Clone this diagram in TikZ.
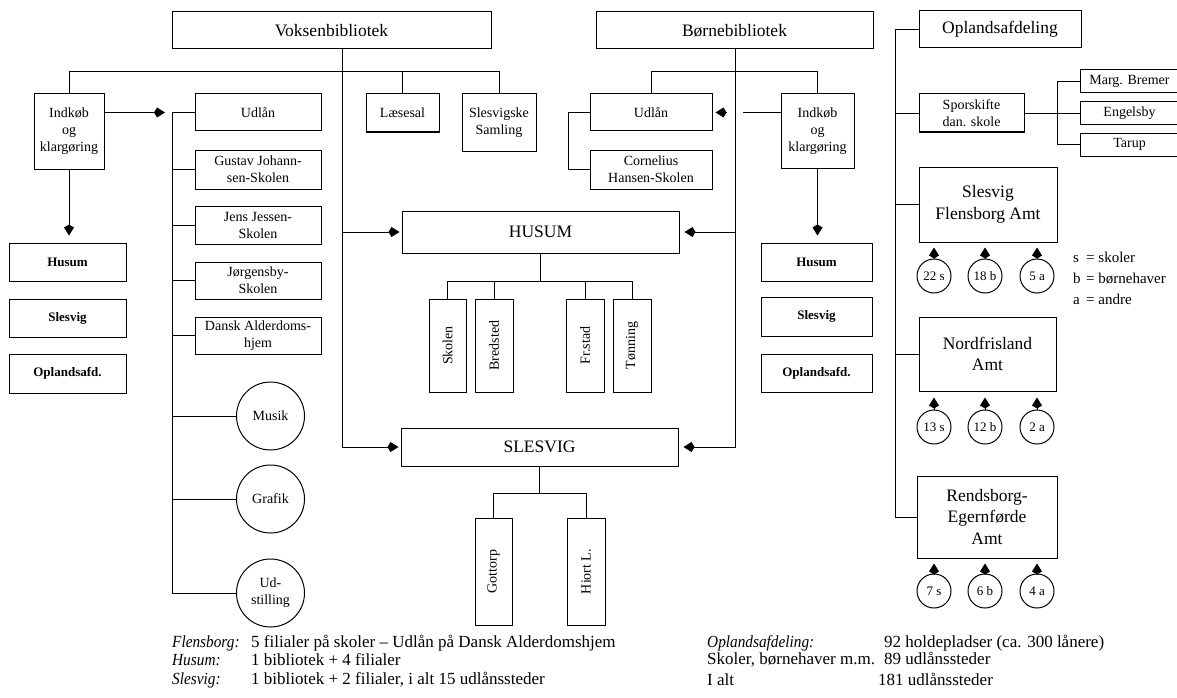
\documentclass[tikz,border=0pt]{standalone}
\usepackage{fontspec}
\setmainfont{Liberation Serif}
\newfontfamily\myitfam{Liberation Serif}[FakeStretch=0.9]
\usetikzlibrary{arrows.meta,calc}
\newcommand\myS{\fontsize{14}{17}\selectfont}
\newcommand\myL{\fontsize{17.5}{21.5}\selectfont}
\newcommand\myB{\fontsize{13}{15}\selectfont\bfseries}
\newcommand\myXS{\fontsize{13}{14}\selectfont}
\newcommand\myT{\fontsize{17}{20}\selectfont}
\newcommand\myLg{\fontsize{15}{17}\selectfont}
\begin{document}
\begin{tikzpicture}[x=1pt,y=-1pt,
  box/.style={draw, line width=1pt, align=center, inner sep=1pt, font=\myS},
  big/.style={box, font=\myL},
  bld/.style={box, font=\myB},
  circ/.style={draw, circle, line width=1pt, minimum size=68pt, inner sep=0pt, align=center, font=\myS},
  smc/.style={draw, circle, line width=1pt, minimum size=34pt, inner sep=0pt, font=\myXS},
  con/.style={line width=0.9pt},
  arr/.style={con, -{Kite[length=11pt,width=10pt,inset=3pt]}},
  txt/.style={anchor=base west, inner sep=0pt, font=\myT},
  ital/.style={anchor=base west, inner sep=0pt, font=\myT\myitfam\itshape},
  lg/.style={anchor=base west, inner sep=0pt, font=\myLg}]
\useasboundingbox (0,0) rectangle (1177,698);

% top row
\node[big, minimum width=319pt, minimum height=37pt] (voksen) at (331.5,30.5) {Voksenbibliotek};
\node[big, minimum width=277pt, minimum height=37pt] (born) at (734.5,30.5) {Børnebibliotek};
\node[big, minimum width=162pt, minimum height=37pt] (oplands) at (1000,29.5) {Oplandsafdeling};

% left part
\node[box, minimum width=70pt, minimum height=75pt] (indkobL) at (69,131.5) {Indkøb\\og\\klargøring};
\node[box, minimum width=126pt, minimum height=37pt] (udlanL) at (258,112.5) {Udlån};
\node[box, minimum width=126pt, minimum height=39pt] (gustav) at (258,169.5) {Gustav Johann-\\sen-Skolen};
\node[box, minimum width=126pt, minimum height=38pt] (jens) at (258,225) {Jens Jessen-\\Skolen};
\node[box, minimum width=126pt, minimum height=37pt] (jorg) at (258,280.5) {Jørgensby-\\Skolen};
\node[box, minimum width=126pt, minimum height=37pt] (dansk) at (258,335.5) {Dansk Alderdoms-\\hjem};
\node[circ] (musik) at (270.5,416) {Musik};
\node[circ] (grafik) at (270.5,499) {Grafik};
\node[circ] (udst) at (270.5,593) {Ud-\\stilling};

\node[bld, minimum width=117pt, minimum height=38pt] (husumL) at (67.5,262) {Husum};
\node[bld, minimum width=117pt, minimum height=38pt] (slesvigL) at (67.5,318) {Slesvig};
\node[bld, minimum width=117pt, minimum height=39pt] (oplandsL) at (67.5,373.5) {Oplandsafd.};

\node[box, minimum width=73pt, minimum height=38pt] (laesesal) at (402.5,113) {Læsesal};
\node[box, minimum width=74pt, minimum height=57pt] (slesvsam) at (499,122.5) {Slesvigske\\Samling};

% centre
\node[big, minimum width=277pt, minimum height=42pt] (husum) at (540.5,232) {HUSUM};
\node[big, minimum width=277pt, minimum height=38pt] (slesvig) at (539.5,447) {SLESVIG};

\node[box, minimum width=37pt, minimum height=93pt] (skolen) at (447.5,345.5) {};
\node[box, minimum width=38pt, minimum height=93pt] (bredsted) at (494,345.5) {};
\node[box, minimum width=38pt, minimum height=93pt] (frstad) at (585,345.5) {};
\node[box, minimum width=38pt, minimum height=93pt] (tonning) at (632,345.5) {};
\node[rotate=90, font=\myS] at (skolen) {Skolen};
\node[rotate=90, font=\myS] at (bredsted) {Bredsted};
\node[rotate=90, font=\myS] at (frstad) {Fr.stad};
\node[rotate=90, font=\myS] at (tonning) {Tønning};

\node[box, minimum width=37pt, minimum height=107pt] (gottorp) at (493.5,571.5) {};
\node[box, minimum width=38pt, minimum height=107pt] (hiort) at (586,571.5) {};
\node[rotate=90, font=\myS] at (gottorp) {Gottorp};
\node[rotate=90, font=\myS] at (hiort) {Hiort L.};

% children's library
\node[box, minimum width=122pt, minimum height=37pt] (udlanR) at (651,112.5) {Udlån};
\node[box, minimum width=122pt, minimum height=39pt] (cornelius) at (651,169.5) {Cornelius\\Hansen-Skolen};
\node[box, minimum width=73pt, minimum height=74pt] (indkobR) at (817.5,131) {Indkøb\\og\\klargøring};
\node[bld, minimum width=111pt, minimum height=38pt] (husumR) at (816.5,262) {Husum};
\node[bld, minimum width=111pt, minimum height=39pt] (slesvigR) at (816.5,316.5) {Slesvig};
\node[bld, minimum width=111pt, minimum height=38pt] (oplandsR) at (816.5,373) {Oplandsafd.};

% Oplandsafdeling
\node[box, minimum width=105pt, minimum height=38pt] (sporskifte) at (971.5,113) {Sporskifte\\dan. skole};
\node[box, minimum width=99pt, minimum height=23pt] (marg) at (1129.5,81.5) {Marg. Bremer};
\node[box, minimum width=99pt, minimum height=23pt] (engelsby) at (1129.5,113) {Engelsby};
\node[box, minimum width=99pt, minimum height=23pt] (tarup) at (1129.5,144.5) {Tarup};
\node[big, minimum width=138pt, minimum height=75pt] (slfl) at (988,204.5) {Slesvig\\Flensborg Amt};
\node[big, minimum width=137pt, minimum height=74pt] (nordfr) at (987.5,354) {Nordfrisland\\Amt};
\node[big, minimum width=140pt, minimum height=82pt] (rendsborg) at (987,517) {Rendsborg-\\Egernførde\\Amt};

\node[smc] (c1) at (934,276) {22 s};
\node[smc] (c2) at (985,276) {18 b};
\node[smc] (c3) at (1037,276) {5 a};
\node[smc] (c4) at (934,427) {13 s};
\node[smc] (c5) at (985,427) {12 b};
\node[smc] (c6) at (1037,427) {2 a};
\node[smc] (c7) at (934,591) {7 s};
\node[smc] (c8) at (985,591) {6 b};
\node[smc] (c9) at (1037,591) {4 a};

% legend
\node[lg] (lgs) at (1073,262) {s};
\node[lg] (lgb) at (1073,283) {b};
\node[lg] (lga) at (1073,304) {a};
\node[lg] at (1086,262) {= skoler};
\node[lg] at (1086,283) {= børnehaver};
\node[lg] at (1086,304) {= andre};

% coordinates
\coordinate (vbus) at (0,71);
\coordinate (bbus) at (0,71);
\coordinate (vx) at (342,0);
\coordinate (bx) at (735,0);
\coordinate (lx) at (172,0);
\coordinate (rx) at (568,0);
\coordinate (ox) at (895,0);
\coordinate (mx) at (1057,0);
\coordinate (hbus) at (0,281);
\coordinate (sbus) at (0,493);

% Voksenbibliotek connectors
\draw[con] (indkobL.north) |- (slesvsam.north |- vbus) -- (slesvsam.north);
\draw[con] (laesesal.north) -- (laesesal.north |- vbus);
\draw[arr, shorten >=2pt] (voksen.south -| vx) |- (slesvig.west);
\draw[arr, shorten >=2pt] (vx |- husum.west) -- (husum.west);
\draw[arr, shorten >=7pt] (indkobL.east |- udlanL.west) -- (lx |- udlanL.west);
\draw[arr, shorten >=7pt] (indkobL.south) -- (indkobL.south |- husumL.north);
\draw[con] (udlanL.west) -| (lx |- udst.west) -- (udst.west);
\draw[con] (lx |- gustav.west) -- (gustav.west);
\draw[con] (lx |- jens.west) -- (jens.west);
\draw[con] (lx |- jorg.west) -- (jorg.west);
\draw[con] (lx |- dansk.west) -- (dansk.west);
\draw[con] (lx |- musik.west) -- (musik.west);
\draw[con] (lx |- grafik.west) -- (grafik.west);

% HUSUM / SLESVIG branches
\draw[con] (husum.south) -- (husum.south |- hbus);
\draw[con] (skolen.north) |- (tonning.north |- hbus) -- (tonning.north);
\draw[con] (bredsted.north) -- (bredsted.north |- hbus);
\draw[con] (frstad.north) -- (frstad.north |- hbus);
\draw[con] (slesvig.south) -- (slesvig.south |- sbus);
\draw[con] (gottorp.north) |- (hiort.north |- sbus) -- (hiort.north);

% Boernebibliotek connectors
\draw[arr, shorten >=3pt] (indkobR.west |- udlanR.east) -- (udlanR.east);
\fill[white] (727,108) rectangle (743,118);
\draw[arr, shorten >=5pt] (born.south -| bx) |- (slesvig.east);
\draw[arr, shorten >=5pt] (bx |- husum.east) -- (husum.east);
\draw[con] (udlanR.north) |- (indkobR.north |- bbus) -- (indkobR.north);
\draw[con] (udlanR.west) -| (rx |- cornelius.west) -- (cornelius.west);
\draw[arr, shorten >=7pt] (indkobR.south) -- (indkobR.south |- husumR.north);

% Oplandsafdeling connectors
\draw[con] (oplands.west) -| (ox |- rendsborg.west) -- (rendsborg.west);
\draw[con] (ox |- sporskifte.west) -- (sporskifte.west);
\draw[con] (ox |- slfl.west) -- (slfl.west);
\draw[con] (ox |- nordfr.west) -- (nordfr.west);
\draw[con] (sporskifte.east) -- (engelsby.west);
\draw[con] (marg.west) -| (mx |- tarup.west) -- (tarup.west);

\foreach \c in {c1,c2,c3} \draw[arr, shorten >=5pt] (\c.north) -- (\c.north |- slfl.south);
\foreach \c in {c4,c5,c6} \draw[arr, shorten >=6pt] (\c.north) -- (\c.north |- nordfr.south);
\foreach \c in {c7,c8,c9} \draw[arr, shorten >=5pt] (\c.north) -- (\c.north |- rendsborg.south);

% bottom text
\node[ital] (fl) at (172,647) {Flensborg:};
\node[txt] at (251,647) {5 filialer på skoler – Udlån på Dansk Alderdomshjem};
\node[ital] (hu) at (172,665.5) {Husum:};
\node[txt] at (251,665.5) {1 bibliotek + 4 filialer};
\node[ital] (sl) at (172,684) {Slesvig:};
\node[txt] at (251,684) {1 bibliotek + 2 filialer, i alt 15 udlånssteder};
\node[ital] (op) at (707,647) {Oplandsafdeling:};
\node[txt] at (884,647) {92 holdepladser (ca. 300 lånere)};
\node[txt] (sk) at (707,664.5) {Skoler, børnehaver m.m.};
\node[txt] at (884,664.5) {89 udlånssteder};
\node[txt] (ia) at (707,685) {I alt};
\node[txt] at (878,685) {181 udlånssteder};
\end{tikzpicture}
\end{document}
